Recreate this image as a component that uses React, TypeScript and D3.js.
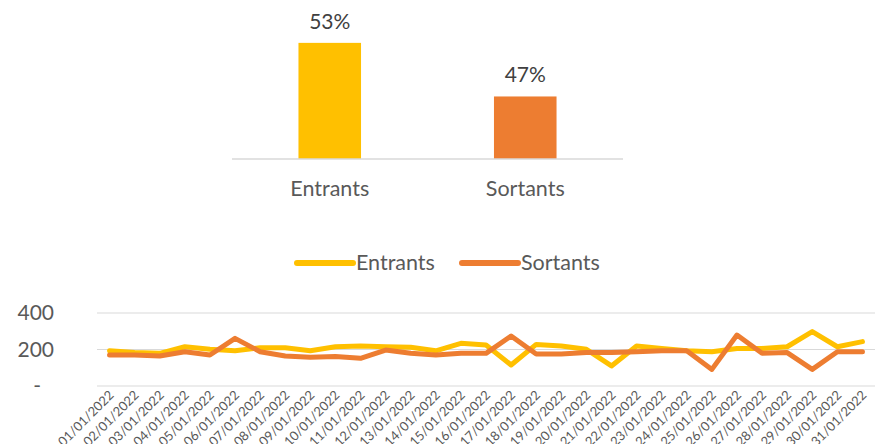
import React, { useEffect, useRef } from 'react';
import * as d3 from 'd3';

// share of movements
const barCategories = ['Entrants', 'Sortants'];
const barShares = [0.53, 0.47];

// daily counts, January 2022
const days = [
  '01/01/2022', '02/01/2022', '03/01/2022', '04/01/2022', '05/01/2022', '06/01/2022',
  '07/01/2022', '08/01/2022', '09/01/2022', '10/01/2022', '11/01/2022', '12/01/2022',
  '13/01/2022', '14/01/2022', '15/01/2022', '16/01/2022', '17/01/2022', '18/01/2022',
  '19/01/2022', '20/01/2022', '21/01/2022', '22/01/2022', '23/01/2022', '24/01/2022',
  '25/01/2022', '26/01/2022', '27/01/2022', '28/01/2022', '29/01/2022', '30/01/2022',
  '31/01/2022'
];
const entrants = [
  193, 184, 179, 215, 201, 193, 210, 210, 193, 215, 219, 215, 212, 193, 234, 225,
  115, 228, 219, 201, 110, 219, 206, 193, 188, 206, 206, 215, 298, 215, 243
];
const sortants = [
  170, 170, 164, 188, 170, 261, 188, 164, 157, 161, 152, 197, 179, 170, 179, 179,
  274, 175, 175, 183, 183, 188, 193, 193, 91, 279, 179, 183, 91, 188, 188
];
const yTicks = [0, 200, 400];

const YELLOW = '#FFC000';
const ORANGE = '#ED7D31';
const TEXT = '#595959';
const GRID = '#D9D9D9';
const FONT = 'Lato, "Open Sans", sans-serif';

const App = () => {
  const svgRef = useRef<SVGSVGElement>(null);

  useEffect(() => {
    document.body.style.margin = '0';
    const svg = d3.select(svgRef.current);
    svg.selectAll('*').remove();
    svg.style('font-family', FONT);

    // ---- bar chart (top)
    const bx = d3.scaleBand().domain(barCategories).range([232, 623]).paddingInner(0.68).paddingOuter(0.34);
    const by = d3.scaleLinear().domain([0.40, 0.55]).range([159, 25]);
    const barColors = [YELLOW, ORANGE];

    const bars = svg.append('g');
    bars.selectAll('rect')
      .data(barShares)
      .enter()
      .append('rect')
      .attr('x', (d, i) => bx(barCategories[i])!)
      .attr('width', bx.bandwidth())
      .attr('y', d => by(d))
      .attr('height', d => by(0.40) - by(d))
      .attr('fill', (d, i) => barColors[i]);

    bars.append('line')
      .attr('x1', 232).attr('x2', 623)
      .attr('y1', by(0.40)).attr('y2', by(0.40))
      .attr('stroke', GRID).attr('stroke-width', 1.5);

    bars.selectAll('.val')
      .data(barShares)
      .enter()
      .append('text')
      .attr('class', 'val')
      .attr('x', (d, i) => bx(barCategories[i])! + bx.bandwidth() / 2)
      .attr('y', d => by(d) - 14)
      .attr('text-anchor', 'middle')
      .attr('fill', '#404040')
      .style('font-size', '21px')
      .text(d => d3.format('.0%')(d));

    bars.selectAll('.cat')
      .data(barCategories)
      .enter()
      .append('text')
      .attr('class', 'cat')
      .attr('x', d => bx(d)! + bx.bandwidth() / 2)
      .attr('y', 196)
      .attr('text-anchor', 'middle')
      .attr('fill', TEXT)
      .style('font-size', '21.5px')
      .text(d => d);

    // ---- legend
    const legendItems = [
      { name: 'Entrants', color: YELLOW, x: 297 },
      { name: 'Sortants', color: ORANGE, x: 462 }
    ];
    const legend = svg.append('g');
    legendItems.forEach(it => {
      legend.append('line')
        .attr('x1', it.x).attr('x2', it.x + 56)
        .attr('y1', 263).attr('y2', 263)
        .attr('stroke', it.color).attr('stroke-width', 6)
        .attr('stroke-linecap', 'round');
      legend.append('text')
        .attr('x', it.x + 59).attr('y', 270)
        .attr('fill', TEXT)
        .style('font-size', '21.5px')
        .text(it.name);
    });

    // ---- line chart (bottom)
    const lx = d3.scalePoint().domain(days).range([97, 875]).padding(0.5);
    const ly = d3.scaleLinear().domain([0, 400]).range([386, 313]);

    const grid = svg.append('g');
    grid.selectAll('line')
      .data(yTicks)
      .enter()
      .append('line')
      .attr('x1', 97).attr('x2', 875)
      .attr('y1', d => ly(d)).attr('y2', d => ly(d))
      .attr('stroke', GRID).attr('stroke-width', 1.2);

    grid.selectAll('text')
      .data(yTicks)
      .enter()
      .append('text')
      .attr('x', d => (d === 0 ? 41 : 54))
      .attr('y', d => ly(d) + 7)
      .attr('text-anchor', 'end')
      .attr('fill', TEXT)
      .style('font-size', '21px')
      .text(d => (d === 0 ? '-' : String(d)));

    const line = d3.line<number>()
      .x((d, i) => lx(days[i])!)
      .y(d => ly(d));

    svg.append('path')
      .datum(entrants)
      .attr('d', line)
      .attr('fill', 'none')
      .attr('stroke', YELLOW)
      .attr('stroke-width', 5)
      .attr('stroke-linejoin', 'round')
      .attr('stroke-linecap', 'round');

    svg.append('path')
      .datum(sortants)
      .attr('d', line)
      .attr('fill', 'none')
      .attr('stroke', ORANGE)
      .attr('stroke-width', 5)
      .attr('stroke-linejoin', 'round')
      .attr('stroke-linecap', 'round');

    svg.append('g')
      .selectAll('text')
      .data(days)
      .enter()
      .append('text')
      .attr('transform', d => `translate(${lx(d)! + 5},${396}) rotate(-45)`)
      .attr('text-anchor', 'end')
      .attr('fill', TEXT)
      .style('font-size', '13px')
      .text(d => d);
  }, []);

  return (
    <svg
      ref={svgRef}
      width={876}
      height={444}
      style={{ display: 'block', position: 'absolute', left: 0, top: 0, background: '#fff' }}
    />
  );
};

export default App;
